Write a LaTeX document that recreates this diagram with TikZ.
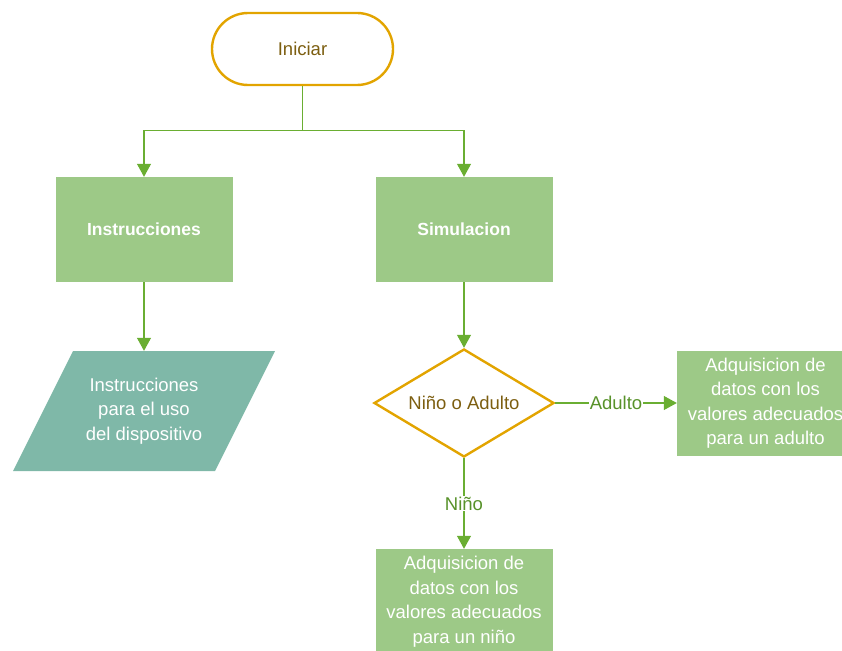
\documentclass[tikz,border=0pt]{standalone}
\usepackage{fontspec}
\setmainfont{Liberation Sans}
\usetikzlibrary{shapes.geometric,arrows.meta}

\definecolor{boxgreen}{RGB}{157,201,135}
\definecolor{boxteal}{RGB}{127,184,168}
\definecolor{edgeorange}{RGB}{226,164,0}
\definecolor{textbrown}{RGB}{124,94,16}
\definecolor{linegreen}{RGB}{106,174,50}
\definecolor{labelgreen}{RGB}{88,146,42}

\tikzset{
  basefont/.style={font=\fontsize{18.5pt}{24.5pt}\selectfont},
  titlefont/.style={font=\fontsize{17.5pt}{24.5pt}\selectfont\bfseries},
  terminal/.style={basefont, draw=edgeorange, line width=2.4pt, rounded corners=36pt,
    minimum width=181pt, minimum height=72pt, text=textbrown},
  process/.style={basefont, fill=boxgreen, text=white, minimum width=177pt,
    minimum height=105pt, align=center, inner sep=0pt},
  decision/.style={basefont, diamond, draw=edgeorange, line width=2.4pt, text=textbrown,
    aspect=1.667, minimum width=180pt, minimum height=108pt, inner sep=0pt},
  iotext/.style={basefont, text=white, align=center, minimum width=140pt,
    minimum height=120pt, inner sep=0pt},
  flow/.style={draw=linegreen, line width=1.1pt, -{Triangle[length=13pt,width=14pt]}},
  branch/.style={basefont, fill=white, text=labelgreen, inner sep=1pt}
}

\begin{document}
\begin{tikzpicture}[x=1pt,y=-1pt]
\useasboundingbox (0,0) rectangle (842,650);
\clip (0,0) rectangle (842,650);

% start terminal
\node[terminal] (start) at (302.5,49) {Iniciar};

% the two main branches
\node[process, titlefont] (ins) at (144,229.5) {Instrucciones};
\node[process, titlefont] (sim) at (464,229.5) {Simulacion};

\draw[flow] (start.south) -- ++(0,44) -| (ins.north);
\draw[flow] (start.south) -- ++(0,44) -| (sim.north);

% input/output parallelogram
\fill[boxteal] (73,351) -- (275,351) -- (215,471) -- (13,471) -- cycle;
\node[iotext] (para) at (144,411) {Instrucciones\\para el uso\\del dispositivo};
\draw[flow] (ins.south) -- (para.north);

% decision
\node[decision] (dec) at (464,403) {Niño o Adulto};
\draw[flow] (sim.south) -- (dec.north);

% data acquisition boxes
\node[process] (adult) at (765.5,403)
  {Adquisicion de\\datos con los\\valores adecuados\\para un adulto};
\node[process] (nino) at (464,601.5)
  {Adquisicion de\\datos con los\\valores adecuados\\para un niño};

\draw[flow] (dec.east) -- node[branch] {Adulto} (adult.west);
\draw[flow] (dec.south) -- node[branch] {Niño} (nino.north);
\end{tikzpicture}
\end{document}
